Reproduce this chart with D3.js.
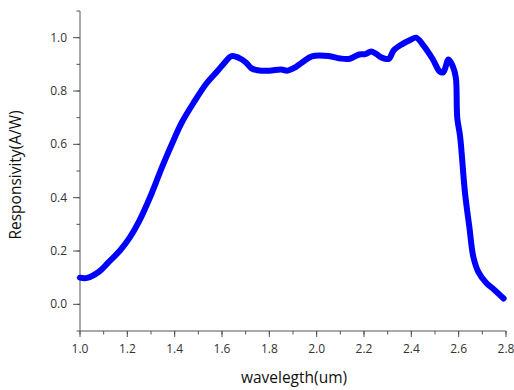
<!DOCTYPE html>
<html>
<head>
<meta charset="utf-8">
<script src="https://cdn.jsdelivr.net/npm/d3@7"></script>
<style>
  body { margin: 0; background: #fff; }
  svg text { font-family: "Open Sans", "Noto Sans", sans-serif; }
</style>
</head>
<body>
<svg id="chart" width="514" height="390"></svg>
<script>
// wavelength (um) and responsivity (A/W)
var wavelength = [1.00, 1.03, 1.08, 1.12, 1.17, 1.21, 1.25, 1.30, 1.35, 1.40, 1.43, 1.48, 1.535, 1.58, 1.61, 1.64,
    1.67, 1.70, 1.725, 1.75, 1.80, 1.85, 1.875, 1.91, 1.94, 1.98, 2.05, 2.10, 2.14, 2.18, 2.205,
    2.23, 2.25, 2.275, 2.305, 2.325, 2.36, 2.395, 2.42, 2.45, 2.49, 2.52, 2.535, 2.557, 2.575,
    2.588, 2.594, 2.606, 2.627, 2.645, 2.662, 2.683, 2.718, 2.75, 2.79];
var responsivity = [0.100, 0.099, 0.122, 0.157, 0.203, 0.250, 0.312, 0.410, 0.522, 0.625, 0.682, 0.756, 0.829, 0.874, 0.905, 0.931,
    0.925, 0.908, 0.885, 0.878, 0.876, 0.881, 0.876, 0.889, 0.908, 0.930, 0.931, 0.922, 0.921, 0.937, 0.938,
    0.948, 0.940, 0.925, 0.921, 0.952, 0.975, 0.991, 1.00, 0.972, 0.92, 0.873, 0.870, 0.918, 0.893,
    0.85, 0.70, 0.63, 0.416, 0.291, 0.178, 0.122, 0.079, 0.055, 0.022];
var xTicks = [1.0, 1.2, 1.4, 1.6, 1.8, 2.0, 2.2, 2.4, 2.6, 2.8];
var yTicks = [0.0, 0.2, 0.4, 0.6, 0.8, 1.0];

var svg = d3.select("#chart");
var axisColor = "#555";

var x = d3.scaleLinear().domain([1.0, 2.8]).range([80, 506]);
var y = d3.scaleLinear().domain([-0.1, 1.1]).range([331, 11]);

var points = wavelength.map(function (w, i) {
    return { w: w, r: responsivity[i] };
});

// x axis with minor ticks
var xMinor = d3.range(1.0, 2.81, 0.1);
var gx = svg.append("g").attr("transform", "translate(0,331)");
gx.append("line").attr("x1", 80).attr("x2", 506).attr("stroke", axisColor);
gx.selectAll(".minor").data(xMinor).enter().append("line")
    .attr("x1", function (d) { return x(d); })
    .attr("x2", function (d) { return x(d); })
    .attr("y1", 0).attr("y2", 3.5)
    .attr("stroke", axisColor);
gx.selectAll(".major").data(xTicks).enter().append("line")
    .attr("x1", function (d) { return x(d); })
    .attr("x2", function (d) { return x(d); })
    .attr("y1", 0).attr("y2", 6)
    .attr("stroke", axisColor);
gx.selectAll("text").data(xTicks).enter().append("text")
    .attr("x", function (d) { return x(d); })
    .attr("y", 22)
    .attr("text-anchor", "middle")
    .attr("font-size", 12)
    .attr("fill", "#333")
    .text(function (d) { return d.toFixed(1); });

// y axis with minor ticks
var yMinor = d3.range(-0.1, 1.11, 0.1);
var gy = svg.append("g").attr("transform", "translate(80,0)");
gy.append("line").attr("y1", 11).attr("y2", 331).attr("stroke", axisColor);
gy.selectAll(".minor").data(yMinor).enter().append("line")
    .attr("y1", function (d) { return y(d); })
    .attr("y2", function (d) { return y(d); })
    .attr("x1", 0).attr("x2", -3.5)
    .attr("stroke", axisColor);
gy.selectAll(".major").data(yTicks).enter().append("line")
    .attr("y1", function (d) { return y(d); })
    .attr("y2", function (d) { return y(d); })
    .attr("x1", 0).attr("x2", -7)
    .attr("stroke", axisColor);
gy.selectAll("text").data(yTicks).enter().append("text")
    .attr("x", -13)
    .attr("y", function (d) { return y(d) + 4; })
    .attr("text-anchor", "end")
    .attr("font-size", 12)
    .attr("fill", "#333")
    .text(function (d) { return d.toFixed(1); });

// axis titles
svg.append("text")
    .attr("x", 294).attr("y", 383)
    .attr("text-anchor", "middle")
    .attr("font-size", 15.5)
    .attr("fill", "#111")
    .text("wavelegth(um)");
svg.append("text")
    .attr("transform", "translate(21,175) rotate(-90)")
    .attr("text-anchor", "middle")
    .attr("font-size", 15.5)
    .attr("fill", "#111")
    .text("Responsivity(A/W)");

// the curve
var line = d3.line()
    .x(function (d) { return x(d.w); })
    .y(function (d) { return y(d.r); })
    .curve(d3.curveCatmullRom.alpha(0.5));

svg.append("path")
    .datum(points)
    .attr("d", line)
    .attr("fill", "none")
    .attr("stroke", "#0000ff")
    .attr("stroke-width", 6)
    .attr("stroke-linecap", "round")
    .attr("stroke-linejoin", "round");
</script>
</body>
</html>
